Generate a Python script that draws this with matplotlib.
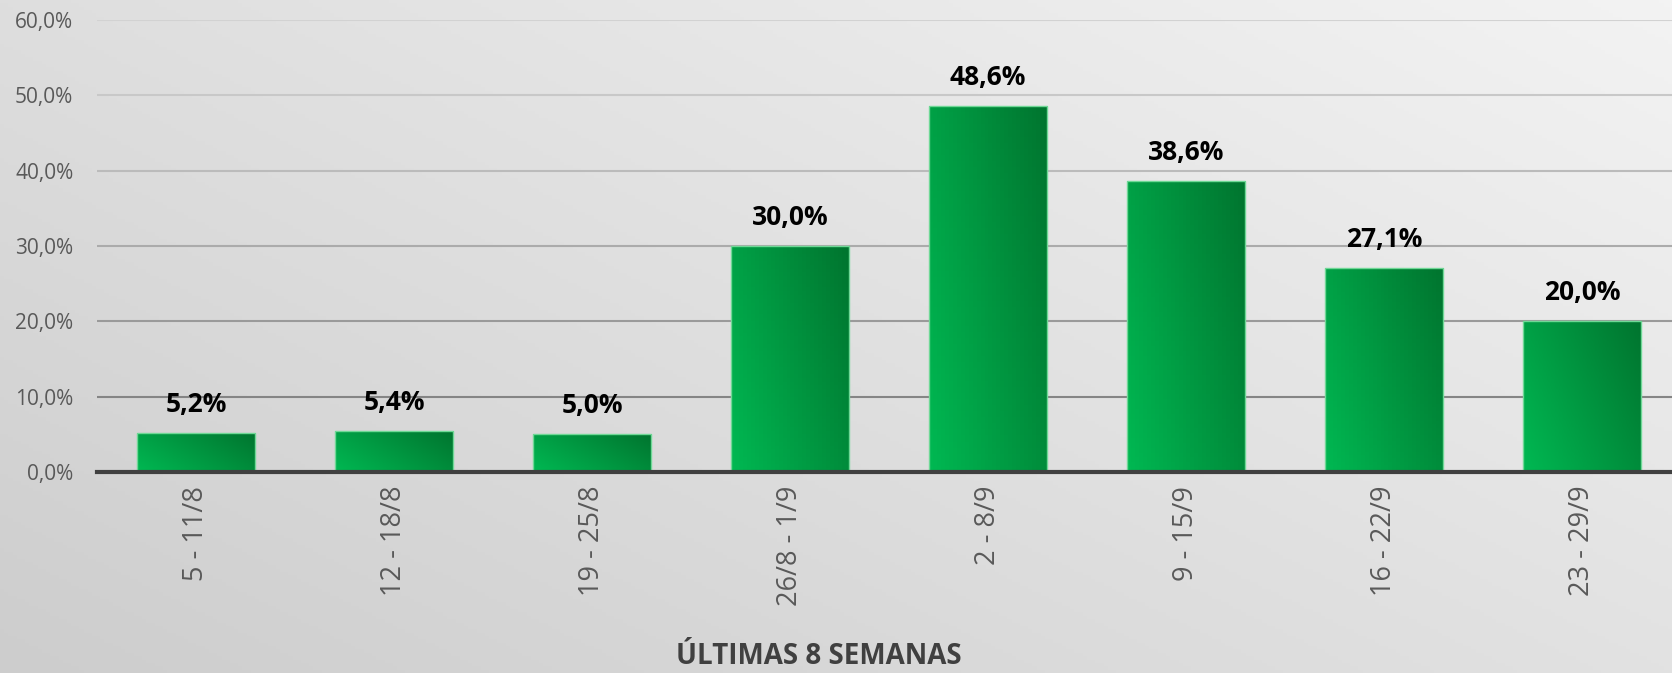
import matplotlib.pyplot as plt
import numpy as np
from matplotlib.colors import LinearSegmentedColormap
from matplotlib.ticker import FuncFormatter

semanas = ['5 - 11/8', '12 - 18/8', '19 - 25/8', '26/8 - 1/9',
           '2 - 8/9', '9 - 15/9', '16 - 22/9', '23 - 29/9']
valores = [5.2, 5.4, 5.0, 30.0, 48.6, 38.6, 27.1, 20.0]

plt.rcParams['font.family'] = ['Open Sans', 'DejaVu Sans']

def pct(v, pos=None):
    return f'{v:.1f}%'.replace('.', ',')

fig = plt.figure(figsize=(16.72, 6.73), dpi=100)

# fundo cinza em degradê
bg = fig.add_axes([0, 0, 1, 1], zorder=0)
yy, xx = np.mgrid[0:1:200j, 0:1:400j]
shade = 0.55 * xx + 0.45 * (1 - yy)
cinza = LinearSegmentedColormap.from_list('cinza', ['#cdcdcd', '#f3f3f3'])
bg.imshow(shade, cmap=cinza, extent=[0, 1, 0, 1], aspect='auto', origin='upper')
bg.axis('off')

ax = fig.add_axes([0.058, 0.299, 1.0054 - 0.058, 0.671], zorder=1)
ax.patch.set_alpha(0)

x = np.arange(len(semanas))
bars = ax.bar(x, valores, width=0.6, color='none', edgecolor='#6fd896',
              linewidth=1, zorder=3)

verde = LinearSegmentedColormap.from_list('verde', ['#00b852', '#00752f'])
U, V = np.meshgrid(np.linspace(0, 1, 30), np.linspace(0, 1, 60))
grad = 0.65 * U + 0.35 * V
for b in bars:
    im = ax.imshow(grad, cmap=verde, origin='lower', aspect='auto', zorder=2.5,
                   extent=[b.get_x(), b.get_x() + b.get_width(), 0, b.get_height()])
    im.set_clip_path(b)

for xi, v in zip(x, valores):
    ax.text(xi, v + 2.8, pct(v), ha='center', va='baseline',
            fontsize=19, fontweight='bold', color='black', zorder=4)

ax.set_xlim(-0.5, 7.5)
ax.set_ylim(0, 60)
ax.set_yticks(np.arange(0, 61, 10))
ax.yaxis.set_major_formatter(FuncFormatter(pct))
ax.set_xticks(x)
ax.set_xticklabels(semanas, rotation=90)
ax.tick_params(length=0, labelcolor='#595959')
ax.tick_params(axis='y', pad=17, labelsize=15)
ax.tick_params(axis='x', pad=10, labelsize=19.5)

ax.yaxis.grid(True, linewidth=1.5)
ax.set_axisbelow(True)
cores_grade = ['#808080', '#858585', '#9a9a9a', '#ababab', '#bbbbbb', '#c8c8c8', '#d2d2d2']
for gl, c in zip(ax.yaxis.get_gridlines(), cores_grade):
    gl.set_color(c)

for s in ['top', 'right', 'left']:
    ax.spines[s].set_visible(False)
ax.spines['bottom'].set_color('#404040')
ax.spines['bottom'].set_linewidth(3)
ax.spines['bottom'].set_zorder(5)

fig.text(0.49, 0.024, 'ÚLTIMAS 8 SEMANAS', ha='center', va='center',
         fontsize=20, fontweight='bold', color='#404040')

fig.savefig('out.png', dpi=100)
